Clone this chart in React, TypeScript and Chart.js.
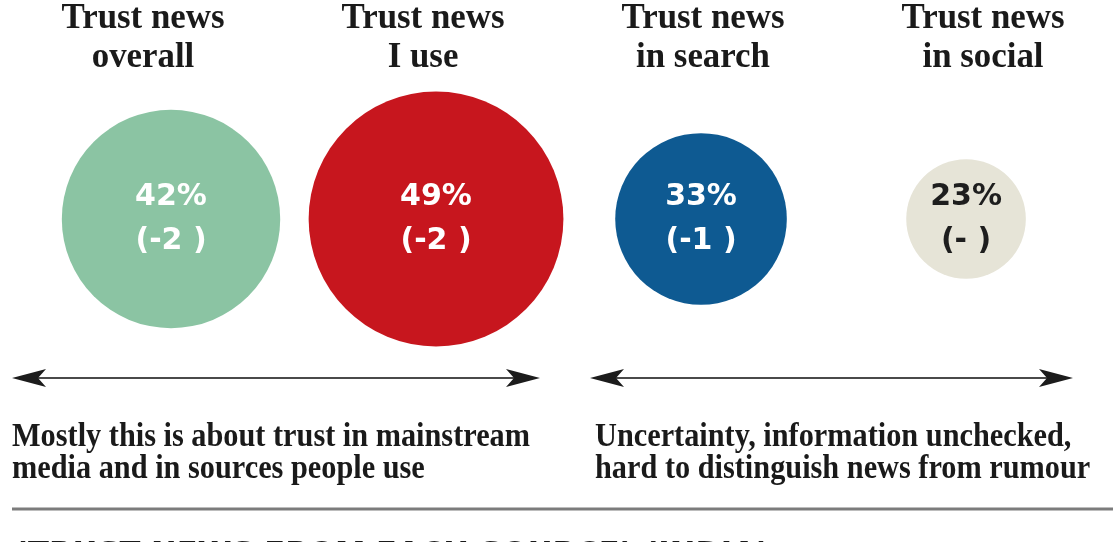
import React, { useEffect, useRef } from "react";
import { Chart, registerables } from "chart.js";

Chart.register(...registerables);

// ---- data ----
const categories: string[][] = [
  ["Trust news", "overall"],
  ["Trust news", "I use"],
  ["Trust news", "in search"],
  ["Trust news", "in social"],
];
const trustValues: number[] = [42, 49, 33, 23];
const changeLabels: string[] = ["(-2 )", "(-2 )", "(-1 )", "(- )"];
const leftNote: string[] = [
  "Mostly this is about trust in mainstream",
  "media and in sources people use",
];
const rightNote: string[] = [
  "Uncertainty, information unchecked,",
  "hard to distinguish news from rumour",
];
const footerText = "(TRUST NEWS FROM EACH SOURCE) (INDIA)";

// ---- styles ----
const fillColors = ["#8bc4a3", "#c7161e", "#0e5a92", "#e6e4d7"];
const textColors = ["#ffffff", "#ffffff", "#ffffff", "#1e1e1e"];
const PX_PER_POINT = 2.6;
const SERIF = "'Liberation Serif', 'Times New Roman', serif";
const SANS = "'DejaVu Sans', sans-serif";

function drawArrow(ctx: CanvasRenderingContext2D, x1: number, x2: number, y: number) {
  ctx.save();
  ctx.strokeStyle = "#4a4a4a";
  ctx.lineWidth = 2;
  ctx.beginPath();
  ctx.moveTo(x1 + 20, y);
  ctx.lineTo(x2 - 20, y);
  ctx.stroke();
  ctx.fillStyle = "#1c1c1c";
  ctx.beginPath();
  ctx.moveTo(x1, y);
  ctx.lineTo(x1 + 34, y - 9);
  ctx.lineTo(x1 + 26, y);
  ctx.lineTo(x1 + 34, y + 9);
  ctx.closePath();
  ctx.fill();
  ctx.beginPath();
  ctx.moveTo(x2, y);
  ctx.lineTo(x2 - 34, y - 9);
  ctx.lineTo(x2 - 26, y);
  ctx.lineTo(x2 - 34, y + 9);
  ctx.closePath();
  ctx.fill();
  ctx.restore();
}

function drawScaled(ctx: CanvasRenderingContext2D, text: string, x: number, y: number, sx: number) {
  ctx.save();
  ctx.translate(x, y);
  ctx.scale(sx, 1);
  ctx.fillText(text, 0, 0);
  ctx.restore();
}

const annotationPlugin = {
  id: "annotations",
  afterDatasetsDraw(chart: any) {
    const ctx: CanvasRenderingContext2D = chart.ctx;
    const meta = chart.getDatasetMeta(0);
    const topScale = chart.scales.top;
    ctx.save();

    // column titles, placed on the category scale
    ctx.fillStyle = "#1a1a1a";
    ctx.textAlign = "center";
    ctx.textBaseline = "alphabetic";
    ctx.font = `bold 35px ${SERIF}`;
    const tx = 163 / ctx.measureText(categories[0][0]).width;
    categories.forEach((lines, i) => {
      const px = topScale.getPixelForTick(i);
      lines.forEach((t, j) => drawScaled(ctx, t, px, 28 + j * 39, tx));
    });

    // bubble labels
    ctx.textAlign = "center";
    ctx.textBaseline = "middle";
    ctx.font = `bold 30px ${SANS}`;
    meta.data.forEach((el: any, i: number) => {
      ctx.fillStyle = textColors[i];
      ctx.fillText(`${trustValues[i]}%`, el.x, el.y - 22);
      ctx.fillText(changeLabels[i], el.x, el.y + 22);
    });

    // arrows
    drawArrow(ctx, 12, 540, 378);
    drawArrow(ctx, 590, 1073, 378);

    // notes
    ctx.textAlign = "left";
    ctx.textBaseline = "alphabetic";
    ctx.fillStyle = "#1a1a1a";
    ctx.font = `bold 34px ${SERIF}`;
    const sx = 518 / ctx.measureText(leftNote[0]).width;
    leftNote.forEach((t, i) => drawScaled(ctx, t, 12, 446 + i * 32, sx));
    rightNote.forEach((t, i) => drawScaled(ctx, t, 595, 446 + i * 32, sx));

    // rule
    ctx.strokeStyle = "#7c7c7c";
    ctx.lineWidth = 3;
    ctx.beginPath();
    ctx.moveTo(12, 509);
    ctx.lineTo(1113, 509);
    ctx.stroke();

    // footer (cut off at the bottom edge)
    ctx.font = `bold 27px ${SANS}`;
    ctx.fillStyle = "#1a1a1a";
    const fx = 756 / ctx.measureText(footerText).width;
    drawScaled(ctx, footerText, 14, 561, fx);
    ctx.restore();
  },
};

export default function App() {
  const canvasRef = useRef<HTMLCanvasElement | null>(null);

  useEffect(() => {
    let chart: Chart | null = null;
    let cancelled = false;

    const build = () => {
      if (cancelled || !canvasRef.current) return;
      chart = new Chart(canvasRef.current, {
        type: "bubble",
        data: {
          datasets: [
            {
              data: trustValues.map((v, i) => ({ x: i, y: 0, r: v * PX_PER_POINT })),
              backgroundColor: fillColors,
              borderWidth: 0,
              hoverRadius: 0,
              clip: false,
            } as any,
          ],
        },
        options: {
          animation: false,
          responsive: true,
          maintainAspectRatio: false,
          events: [],
          layout: { autoPadding: false, padding: { top: 76, left: 143, right: 130, bottom: 180 } },
          plugins: {
            legend: { display: false },
            tooltip: { enabled: false },
          },
          scales: {
            x: { type: "linear", min: -0.1057, max: 3.064, display: false },
            y: { type: "linear", min: -1, max: 1, display: false },
            top: {
              axis: "x",
              type: "category",
              labels: categories.map((c) => c.join(" ")),
              position: "top",
              offset: false,
              display: false,
            } as any,
          },
        } as any,
        plugins: [annotationPlugin],
      });
    };

    const fonts: any = (document as any).fonts;
    if (fonts && fonts.load) {
      Promise.all([
        fonts.load(`bold 30px ${SANS}`),
        fonts.load(`bold 35px ${SERIF}`),
      ])
        .catch(() => null)
        .then(build);
    } else {
      build();
    }

    return () => {
      cancelled = true;
      if (chart) chart.destroy();
    };
  }, []);

  return (
    <div style={{ position: "fixed", top: 0, left: 0, width: 1113, height: 542, overflow: "hidden", background: "#fff" }}>
      <canvas ref={canvasRef} />
    </div>
  );
}
